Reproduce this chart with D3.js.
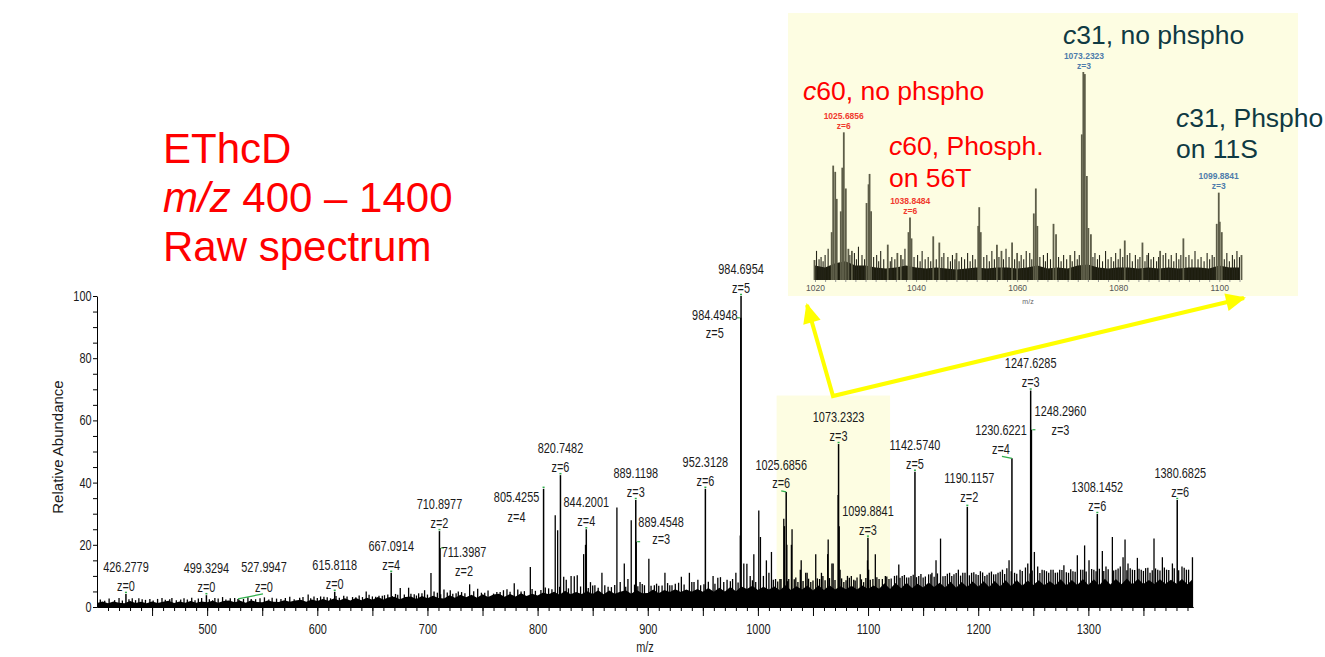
<!DOCTYPE html>
<html>
<head>
  <script src="https://d3js.org/d3.v7.min.js"></script>
  <style>
    body { margin: 0; background: #fff; }
    svg { display: block; }
    text { font-family: "Liberation Sans", Arial, sans-serif; fill: #1a1a1a; }
  </style>
</head>
<body>
<svg width="1325" height="657"></svg>
<script>
  // labelled peaks of the raw spectrum (m/z, charge, relative abundance)
  var labelMz = ["426.2779", "499.3294", "527.9947", "615.8118", "667.0914", "710.8977", "711.3987",
    "805.4255", "820.7482", "844.2001", "889.1198", "889.4548", "952.3128", "984.6954", "984.4948",
    "1025.6856", "1073.2323", "1099.8841", "1142.5740", "1190.1157", "1230.6221", "1247.6285",
    "1248.2960", "1308.1452", "1380.6825"];
  var labelZ = [0, 0, 0, 0, 4, 2, 2, 4, 6, 4, 3, 3, 6, 5, 5, 6, 3, 3, 5, 2, 4, 3, 3, 6, 6];
  var labelH = [4.2, 3.8, 2.6, 4.9, 11, 24.4, 19, 38, 42.4, 25, 34.4, 21, 38, 100, 93,
    37, 52.4, 22.3, 43.5, 32.2, 47.8, 69.6, 57, 29.9, 34.4];

  // other visible peaks [m/z, relative abundance]
  var minorPeaks = [
    [432, 2.8], [441, 2.5], [455, 2.6], [468, 2.9], [476, 2.4], [486, 3.0], [492, 2.7], [507, 2.9],
    [514, 3.2], [521, 2.8], [540, 2.6], [552, 3.1], [563, 2.7], [575, 3.3], [584, 3.0], [591.7, 4.0],
    [603, 3.4], [609, 3.1], [624, 3.6], [632, 3.2], [644.4, 5.0], [650, 3.4], [656, 3.6], [661, 3.8],
    [671, 4.2], [675.3, 6.1], [679, 4.0], [682.9, 6.2], [688, 4.1], [692, 4.4], [697.4, 5.4], [703.2, 10.9],
    [706, 5.0], [715, 5.6], [720.7, 5.4], [726, 4.4], [731, 4.8], [738.3, 7.3], [745.6, 5.9], [752, 4.6],
    [760, 4.3], [766, 4.8], [772.2, 5.7], [778.8, 7.6], [785, 5.0], [793.4, 12.9], [798, 5.2],
    [810, 6.0], [816, 29.5], [818.2, 24.7], [823.7, 9.7], [826, 8.8], [830.4, 10], [833.3, 9.9], [836, 10.2],
    [841.8, 17], [843.5, 20], [848, 8], [852, 7], [858.4, 11], [864, 6.5], [872, 32], [875, 8], [878.7, 14],
    [882, 9], [885, 27.9], [893, 8], [897, 7], [901, 15.5], [906, 7], [910, 6.8], [915.6, 11], [920, 7],
    [925, 7.5], [930.5, 9.7], [937.8, 11], [942, 8], [945.5, 8.8], [948, 7], [959.3, 10], [963.6, 9.4],
    [966, 9.6], [969, 8], [972, 8.8], [977, 9], [980, 11], [984.0, 23], [987.2, 14], [990, 13.9], [993, 10],
    [996.3, 17], [1000.8, 31], [1002.3, 22.5], [1005, 10], [1007.7, 15], [1010, 11], [1012.3, 17.7], [1016, 9],
    [1020, 9], [1023.5, 28.4], [1024.1, 26], [1026.3, 20], [1028, 9], [1030.4, 20], [1031, 25], [1034.4, 9.5],
    [1036.3, 8], [1038.5, 12], [1039.3, 15], [1043.4, 11], [1044.7, 11], [1048, 8], [1052.5, 17], [1056, 9],
    [1057.7, 11], [1059, 10], [1063.3, 17], [1063.8, 21.7], [1067.2, 14], [1068.3, 14], [1072.8, 36],
    [1073.8, 26], [1074.6, 12], [1078, 8], [1081.3, 10], [1084.8, 10], [1088.3, 8.5], [1092.9, 10.5],
    [1096, 8], [1099.5, 15], [1100.5, 12], [1104.4, 9], [1106.6, 17], [1110, 9], [1115.7, 10], [1119, 9],
    [1124, 10], [1127.9, 13.7], [1131, 10], [1135, 9.5], [1139, 10], [1146, 10], [1150, 9.5], [1155, 10.5],
    [1158, 11], [1161.7, 15], [1165.8, 22], [1170, 10], [1174, 11], [1178, 10.5], [1182, 12], [1186, 11],
    [1194, 11], [1198, 10.5], [1202, 11.5], [1206, 10], [1210, 11], [1214, 10.5], [1218, 11], [1222, 12],
    [1226, 12.5], [1228, 15], [1233, 11], [1238, 12], [1242.9, 12.7], [1245, 14], [1251, 17.7], [1254, 13],
    [1258, 12], [1262, 11.5], [1266, 12], [1270, 11], [1274, 12], [1277.8, 13.4], [1282, 11], [1286, 11.5],
    [1290, 16.6], [1293, 12], [1296.6, 19.8], [1300.6, 15], [1305, 12], [1312.7, 18], [1316, 13],
    [1321.8, 22.5], [1325, 12], [1329, 13], [1331.5, 16], [1333.3, 21.7], [1336, 14], [1340, 12],
    [1344.5, 15.8], [1348, 12], [1352, 12.5], [1356, 11], [1359.6, 22], [1363, 12], [1367.2, 16],
    [1371, 12], [1376.3, 14], [1385, 13], [1389, 12], [1394.5, 16]
  ];

  // small noise spikes on top of the floor [m/z, relative abundance]
  var grassPeaks = [
    [403, 2.4], [407, 2.0], [411, 2.7], [416, 2.2], [420, 2.9], [423, 2.1], [429, 2.5], [435, 2.2], [438, 2.8],
    [444, 2.3], [448, 2.6], [451, 2.1], [459, 2.9], [462, 2.3], [466, 2.5], [472, 2.2], [479, 2.8], [482, 2.4],
    [489, 2.2], [495, 2.9], [502, 2.5], [505, 2.2], [510, 2.7], [517, 2.4], [525, 2.9], [529, 2.3], [533, 2.6],
    [537, 3.1], [544, 2.5], [548, 2.8], [556, 2.4], [559, 3.0], [567, 2.6], [571, 2.9], [579, 2.5], [587, 3.2],
    [594, 2.8], [597, 3.4], [600, 2.9], [606, 3.3], [612, 2.8], [617, 3.5], [620, 3.0], [627, 3.4], [635, 3.1],
    [638, 3.7], [641, 3.2], [647, 3.9], [653, 3.3], [659, 3.6], [664, 4.0], [668, 3.5], [673, 3.9], [685, 4.3],
    [690, 3.7], [695, 4.4], [700, 4.0], [709, 4.6], [712, 4.1], [718, 4.7], [723, 4.3], [728, 5.0], [734, 4.4],
    [742, 5.1], [749, 4.6], [755, 5.3], [763, 4.8], [769, 5.4], [775, 4.9], [782, 5.6], [788, 5.1], [795, 5.8],
    [803, 5.5], [807, 6.3], [813, 5.7], [820, 6.5], [828, 6.0], [839, 6.6], [846, 6.1], [850, 6.9], [855, 6.2],
    [861, 7.0], [867, 6.4], [870, 7.1], [880, 6.5], [888, 7.2], [891, 6.7], [895, 7.4], [903, 6.8], [908, 7.5],
    [913, 6.9], [918, 7.7], [922, 7.0], [928, 7.8], [933, 7.2], [940, 8.0], [951, 7.3], [955, 8.1], [961, 7.5],
    [975, 8.3], [982, 7.9], [995, 8.6], [998, 8.0], [1014, 8.8], [1018, 8.2], [1021, 9.0], [1027, 8.3],
    [1033, 8.9], [1041, 8.4], [1046, 9.1], [1050, 8.5], [1054, 9.2], [1061, 8.6], [1065, 9.3], [1070, 8.7],
    [1076, 9.2], [1080, 8.6], [1083, 9.4], [1087, 8.8], [1090, 9.5], [1094, 8.9], [1098, 9.3], [1102, 8.8],
    [1108, 9.6], [1113, 9.0], [1117, 9.8], [1121, 9.2], [1126, 10.1], [1129, 9.4], [1133, 10.3], [1137, 9.5],
    [1141, 10.4], [1144, 9.6], [1148, 10.6], [1152, 9.8], [1157, 10.5], [1160, 9.7], [1163, 10.8], [1168, 9.9],
    [1172, 10.7], [1176, 10.0], [1180, 10.9], [1184, 10.1], [1188, 11.0], [1192, 10.2], [1196, 11.2],
    [1200, 10.3], [1204, 11.1], [1208, 10.4], [1212, 11.4], [1216, 10.5], [1220, 11.3], [1224, 10.6],
    [1230, 11.5], [1235, 10.7], [1240, 11.6], [1247, 10.8], [1249, 11.7], [1256, 10.9], [1260, 11.8],
    [1264, 11.0], [1268, 12.0], [1272, 11.1], [1276, 11.9], [1280, 11.2], [1284, 12.1], [1288, 11.3],
    [1295, 12.0], [1298, 11.4], [1303, 12.2], [1307, 11.5], [1310, 12.3], [1314, 11.6], [1318, 12.1],
    [1323, 11.7], [1327, 12.4], [1335, 11.8], [1338, 12.5], [1342, 11.9], [1346, 12.3], [1350, 11.6],
    [1354, 12.6], [1358, 11.8], [1361, 12.4], [1365, 11.7], [1369, 12.7], [1373, 11.9], [1378, 12.5],
    [1382, 11.8], [1387, 12.6], [1391, 12.0]
  ];

  // noise floor, one value every 5 m/z from 400
  var floorStart = 400, floorStep = 5;
  var floorH = [
    1.3,1.8,1.2,1.8,1.4,1.2,1.9,1.3,1.7,1.2,1.8,1.3,1.7,2.0,1.3,1.8,1.4,1.9,1.4,1.8,
    1.5,2.0,1.4,1.9,2.1,1.5,2.0,1.4,2.2,1.6,1.5,2.1,1.7,1.6,2.2,1.7,2.1,2.3,1.7,2.4,
    1.9,2.6,2.0,2.7,2.1,2.8,2.1,2.9,2.2,3.0,2.3,3.2,2.4,3.1,3.3,2.5,3.2,3.4,2.6,3.5,
    2.8,3.6,2.9,2.7,3.8,3.0,3.9,3.1,3.9,3.0,4.1,3.2,4.0,4.3,3.3,4.2,3.4,4.4,3.5,4.3,
    3.7,4.7,4.1,4.9,3.9,5.2,4.1,4.8,4.2,5.1,4.2,5.4,4.1,5.3,4.3,4.9,5.4,4.3,5.5,4.4,
    4.5,5.6,4.4,5.5,4.8,5.7,4.8,5.6,4.9,5.8,4.9,6.1,4.9,6.2,5.0,6.4,5.1,6.6,5.8,6.8,
    5.5,6.5,5.6,6.6,5.4,7.0,5.5,6.7,5.6,6.9,5.3,6.9,5.5,7.0,5.6,6.7,5.7,6.8,5.6,6.9,
    5.8,6.9,5.9,7.6,5.8,7.7,6.0,7.8,6.1,7.5,6.3,7.9,6.4,7.8,6.3,8.1,6.2,8.0,6.4,8.2,
    6.5,8.3,6.4,8.4,6.6,8.6,6.7,8.7,6.8,8.5,7.1,8.6,7.0,8.3,7.0,8.9,6.9,8.7,7.1,9.0,
    7.1,8.9,7.0,9.1,7.2,9.0,7.3,9.2,7.2,9.1,7.4,8.7,7.4,8.9,7.5,8.8,7.5,9.0,7.3,9.1
  ];

  var xTicks = [500, 600, 700, 800, 900, 1000, 1100, 1200, 1300];
  var yTicks = [0, 20, 40, 60, 80, 100];
  var zoomRange = [1017, 1120], zoomTop = 68;

  // zoomed view 1020-1105, relative to 1073.2323 = 100
  var insetPeaks = [
    [1019.9, 9.6], [1023.3, 23], [1023.6, 55], [1024.0, 52], [1024.3, 39], [1025.1, 33], [1025.4, 54],
    [1025.7, 71], [1026.1, 44], [1026.6, 15], [1027.3, 14], [1030.2, 37], [1030.6, 46], [1030.8, 51],
    [1031.1, 33], [1034.4, 17], [1036.3, 13], [1037, 12], [1038.5, 23], [1038.8, 30], [1039.1, 20],
    [1043.4, 21], [1044.6, 18], [1048, 13], [1052.3, 26], [1052.5, 35], [1052.8, 23], [1056, 17],
    [1056.9, 14], [1059, 18], [1060, 13], [1063.3, 32], [1063.7, 44], [1064, 26], [1067.2, 27],
    [1067.7, 22], [1070.5, 12], [1072.8, 70], [1073.1, 100], [1073.4, 99], [1073.8, 50], [1074.1, 25],
    [1074.6, 22], [1081.3, 19], [1084.8, 18], [1088.3, 14], [1092.9, 20], [1099.5, 27], [1099.9, 42],
    [1100.1, 28], [1100.5, 23], [1104.4, 12]
  ];
  var insetGrass = [
    [1020.3, 14], [1020.8, 10], [1021.2, 11], [1021.6, 9], [1022, 12], [1022.6, 15], [1026.9, 12], [1027.8, 13],
    [1028.2, 10], [1028.6, 16], [1029.3, 12], [1029.8, 10], [1031.6, 11], [1032.2, 12], [1032.6, 9], [1033, 14],
    [1033.6, 10], [1034.9, 9], [1035.2, 11], [1035.8, 10], [1037.4, 10], [1037.8, 15], [1039.6, 11],
    [1040.3, 12], [1040.8, 9], [1041.2, 14], [1041.8, 10], [1042.4, 11], [1042.9, 9], [1044, 10],
    [1045.1, 11], [1045.5, 13], [1046.3, 11], [1046.8, 9], [1047.2, 12], [1047.7, 10], [1048.5, 9],
    [1049, 11], [1049.6, 10], [1050.2, 13], [1050.7, 9], [1051.2, 12], [1051.7, 10], [1053.4, 11],
    [1054, 12], [1054.5, 9], [1055, 14], [1055.5, 10], [1056.4, 11], [1057.3, 10], [1057.8, 15],
    [1058.4, 11], [1059.5, 10], [1060.4, 9], [1060.8, 12], [1061.3, 10], [1061.8, 14], [1062.5, 13],
    [1062.9, 10], [1064.5, 11], [1065.2, 12], [1065.6, 9], [1066, 13], [1066.6, 10], [1068.2, 11],
    [1068.7, 9], [1069.2, 12], [1069.8, 10], [1070.9, 9], [1071.4, 14], [1071.9, 10], [1072.3, 12],
    [1075, 11], [1075.4, 13], [1075.9, 10], [1076.3, 12], [1076.9, 9], [1077.5, 14], [1078, 10],
    [1078.6, 11], [1079.1, 9], [1079.5, 13], [1080, 10], [1080.4, 15], [1080.9, 11], [1081.8, 12],
    [1082.3, 13], [1082.8, 9], [1083.4, 12], [1083.9, 10], [1084.3, 11], [1085.3, 9], [1085.7, 12], [1086, 13],
    [1086.5, 10], [1087, 11], [1087.6, 9], [1088, 11], [1088.9, 12], [1089.4, 13], [1090, 10], [1090.5, 12],
    [1091, 9], [1091.5, 13], [1092, 10], [1092.4, 12], [1093.4, 11], [1094, 12], [1094.6, 10], [1095.2, 14],
    [1095.8, 10], [1096.4, 11], [1097, 9], [1097.6, 13], [1098.1, 10], [1098.6, 12], [1099, 11], [1101,10],
    [1101.5, 13], [1102, 9], [1102.6, 12], [1103, 10], [1103.5, 14], [1104, 11]
  ];
  var insetFloorStart = 1020, insetFloorStep = 2;
  var insetFloorH = [7, 6, 8, 9, 7, 7, 6, 5.5, 6, 7, 6, 5.5, 6, 5.5, 5, 5.5, 6, 5.5, 6, 6, 5.5, 6,
    7, 5.5, 6, 5.5, 7, 7.5, 6, 5.5, 6, 6, 5.5, 6, 5.5, 6, 5.5, 6, 6, 5.5, 7, 6, 6];
  var insetTicks = [1020, 1040, 1060, 1080, 1100];
  var insetLabels = [
    {mz: "1025.6856", z: 6, h: 71, color: "#f03a2e"},
    {mz: "1038.8484", z: 6, h: 30, color: "#f03a2e"},
    {mz: "1073.2323", z: 3, h: 100, color: "#4e7cab"},
    {mz: "1099.8841", z: 3, h: 42, color: "#4e7cab"}
  ];

  var svg = d3.select("svg");
  var x = d3.scaleLinear().domain([400, 1395]).range([97, 1193]);
  var y = d3.scaleLinear().domain([0, 100]).range([607, 296]);
  var narrow = 0.78;   // squeeze to look like Arial Narrow

  function narrowText(px, py, str) {
    return svg.append("text")
      .attr("transform", "translate(" + px + "," + py + ") scale(" + narrow + ",1)")
      .attr("dy", "0.35em").attr("text-anchor", "middle")
      .style("font-size", "14px").text(str);
  }
  function spikes(sel, data, sx, sy, color, width) {
    sel.append("g").selectAll("line")
      .data(data)
      .enter().append("line")
      .attr("x1", function(d) { return sx(d[0]); }).attr("x2", function(d) { return sx(d[0]); })
      .attr("y1", sy(0)).attr("y2", function(d) { return sy(d[1]); })
      .attr("stroke", color).attr("stroke-width", width);
  }

  // highlighted window in the full spectrum
  svg.append("rect")
    .attr("x", x(zoomRange[0])).attr("y", y(zoomTop))
    .attr("width", x(zoomRange[1]) - x(zoomRange[0]))
    .attr("height", y(0) - y(zoomTop))
    .attr("fill", "#fdfde2");

  var floorData = floorH.map(function(h, i) { return {mz: floorStart + i * floorStep, h: h}; });
  svg.append("path")
    .datum(floorData)
    .attr("fill", "#000")
    .attr("d", d3.area().x(function(d) { return x(Math.min(d.mz, 1395)); }).y0(y(0)).y1(function(d) { return y(d.h); }));

  spikes(svg, grassPeaks, x, y, "#000", 1.3);
  spikes(svg, minorPeaks, x, y, "#000", 1.3);

  var peaks = labelMz.map(function(m, i) { return {mz: m, z: labelZ[i], h: labelH[i]}; });
  spikes(svg, peaks.map(function(d) { return [+d.mz, d.h]; }), x, y, "#000", 1.5);

  // label placement: number centre, z centre, shoulder tick side, leader
  var labelNudge = {
    "527.9947": {dx: 26, ny: -32, zy: -12, lead: [25, -5]},
    "711.3987": {dx: 24, ny: 4, zy: 23, side: 1},
    "805.4255": {dx: -27, ny: 8, zy: 28},
    "889.4548": {dx: 25, ny: -20, zy: -3, side: 1},
    "984.4948": {dx: -26, ny: -3, zy: 15, side: -1},
    "1025.6856": {dx: -5, ny: -27, zy: -9, lead: [-5, -1]},
    "1190.1157": {dx: 2, ny: -29, zy: -10},
    "1230.6221": {dx: -11, ny: -28, zy: -9, lead: [-10, -2]},
    "1248.2960": {dx: 29, ny: -19, zy: 0, side: 1},
    "1380.6825": {dx: 3, ny: -27, zy: -8}
  };
  peaks.forEach(function(d) {
    var n = labelNudge[d.mz] || {dx: 0, ny: -27, zy: -8};
    var px = x(+d.mz), py = y(d.h);
    if (n.lead) {
      svg.append("line").attr("x1", px).attr("y1", py).attr("x2", px + n.lead[0]).attr("y2", py + n.lead[1])
        .attr("stroke", "#2fae4a").attr("stroke-width", 1.2);
    } else if (n.side) {
      svg.append("line").attr("x1", px + n.side).attr("x2", px + n.side * 4).attr("y1", py).attr("y2", py)
        .attr("stroke", "#2fae4a").attr("stroke-width", 1.2);
    } else {
      svg.append("line").attr("x1", px - 1).attr("x2", px + 1).attr("y1", py - 1.5).attr("y2", py - 1.5)
        .attr("stroke", "#2fae4a").attr("stroke-width", 1.5);
    }
    narrowText(px + n.dx, py + n.ny, d.mz);
    narrowText(px + n.dx, py + n.zy, "z=" + d.z);
  });

  // axes
  var gx = svg.append("g").attr("transform", "translate(0," + y(0) + ")");
  gx.append("g").call(d3.axisBottom(x).tickValues(d3.range(410, 1395, 10)).tickSize(4).tickSizeOuter(0).tickFormat(""));
  gx.append("g").call(d3.axisBottom(x).tickValues(d3.range(450, 1395, 50)).tickSize(9).tickSizeOuter(0).tickPadding(8)
    .tickFormat(function(d) { return xTicks.indexOf(d) >= 0 ? d : ""; }));
  gx.selectAll("text").attr("transform", "scale(" + narrow + ",1)")
    .style("font-family", "'Liberation Sans', Arial, sans-serif").style("font-size", "14px").style("fill", "#1a1a1a");
  gx.selectAll("path, line").attr("stroke", "#000");

  var gy = svg.append("g").attr("transform", "translate(" + x(400) + ",0)");
  gy.call(d3.axisLeft(y).tickValues(d3.range(0, 101, 5)).tickSize(4).tickSizeOuter(0).tickPadding(3)
    .tickFormat(function(d) { return yTicks.indexOf(d) >= 0 ? d : ""; }));
  gy.selectAll("text").attr("transform", "scale(" + narrow + ",1)")
    .style("font-family", "'Liberation Sans', Arial, sans-serif").style("font-size", "14px").style("fill", "#1a1a1a");
  gy.selectAll("path, line").attr("stroke", "#000");

  narrowText(645, 647, "m/z");
  svg.append("text").attr("transform", "translate(63,447) rotate(-90)")
    .attr("text-anchor", "middle").style("font-size", "15px").text("Relative Abundance");

  // title block
  var title = svg.append("text").style("font-size", "42px");
  title.append("tspan").attr("x", 163).attr("y", 163).style("fill", "#ff0000").text("EThcD");
  var t2 = title.append("tspan").attr("x", 163).attr("y", 212).style("fill", "#ff0000");
  t2.append("tspan").style("font-style", "italic").style("fill", "#ff0000").text("m/z");
  t2.append("tspan").style("fill", "#ff0000").text(" 400 \u2013 1400");
  title.append("tspan").attr("x", 163).attr("y", 261).style("fill", "#ff0000").text("Raw spectrum");

  // inset
  var ix = d3.scaleLinear().domain([1020, 1104.5]).range([815, 1242]);
  var iy = d3.scaleLinear().domain([0, 100]).range([280, 72]);
  svg.append("rect").attr("x", 788).attr("y", 13).attr("width", 510).attr("height", 283).attr("fill", "#fdfde2");

  var insetFloor = insetFloorH.map(function(h, i) { return {mz: insetFloorStart + i * insetFloorStep, h: h}; });
  svg.append("path").datum(insetFloor).attr("fill", "#1d1d0e")
    .attr("d", d3.area().x(function(d) { return ix(Math.min(d.mz, 1104.5)); }).y0(iy(0)).y1(function(d) { return iy(d.h); }));
  spikes(svg, insetGrass, ix, iy, "#26261a", 1.1);
  spikes(svg, insetPeaks, ix, iy, "#5d5d48", 1.8);

  var gi = svg.append("g").attr("transform", "translate(0," + iy(0) + ")");
  gi.call(d3.axisBottom(ix).tickValues(d3.range(1020, 1105, 2)).tickSize(2).tickSizeOuter(0).tickPadding(3)
    .tickFormat(function(d) { return insetTicks.indexOf(d) >= 0 ? d : ""; }));
  gi.select(".domain").remove();
  gi.selectAll("line").attr("stroke", "#999");
  gi.selectAll("text").style("font-family", "'Liberation Sans', Arial, sans-serif")
    .style("font-size", "8.5px").style("fill", "#555");
  svg.append("text").attr("x", 1028).attr("y", 304).attr("text-anchor", "middle")
    .style("font-size", "7px").style("fill", "#666").text("m/z");

  insetLabels.forEach(function(d) {
    var px = ix(+d.mz), py = iy(d.h);
    svg.append("text").attr("x", px).attr("y", py - 13.5).attr("text-anchor", "middle")
      .style("font-size", "8.5px").style("font-weight", "bold").style("fill", d.color).text(d.mz);
    svg.append("text").attr("x", px).attr("y", py - 3.5).attr("text-anchor", "middle")
      .style("font-size", "8.5px").style("font-weight", "bold").style("fill", d.color).text("z=" + d.z);
  });

  function note(xp, yp, color, lead, rest) {
    var t = svg.append("text").attr("x", xp).attr("y", yp)
      .style("font-size", "26.5px").style("fill", color);
    if (lead) t.append("tspan").style("font-style", "italic").style("fill", color).text(lead);
    t.append("tspan").style("fill", color).text(rest);
  }
  note(803, 100, "#ff0000", "c", "60, no phspho");
  note(889, 155, "#ff0000", "c", "60, Phosph.");
  note(889, 187, "#ff0000", "", "on 56T");
  note(1063, 44, "#0f3a43", "c", "31, no phspho");
  note(1176, 127, "#0f3a43", "c", "31, Phspho");
  note(1176, 158, "#0f3a43", "", "on 11S");

  // yellow arrows from the highlighted window to the inset
  var defs = svg.append("defs");
  defs.append("marker").attr("id", "head").attr("viewBox", "-20 -10 22 20")
    .attr("refX", 0).attr("refY", 0).attr("markerWidth", 22).attr("markerHeight", 20)
    .attr("markerUnits", "userSpaceOnUse").attr("orient", "auto-start-reverse")
    .append("path").attr("d", "M2,0 L-18,-9 L-18,9 Z").attr("fill", "#ffff00");
  svg.append("path")
    .attr("d", "M807,305 L833,396 L1244,298")
    .attr("fill", "none").attr("stroke", "#ffff00").attr("stroke-width", 4)
    .attr("marker-start", "url(#head)").attr("marker-end", "url(#head)");
</script>
</body>
</html>
